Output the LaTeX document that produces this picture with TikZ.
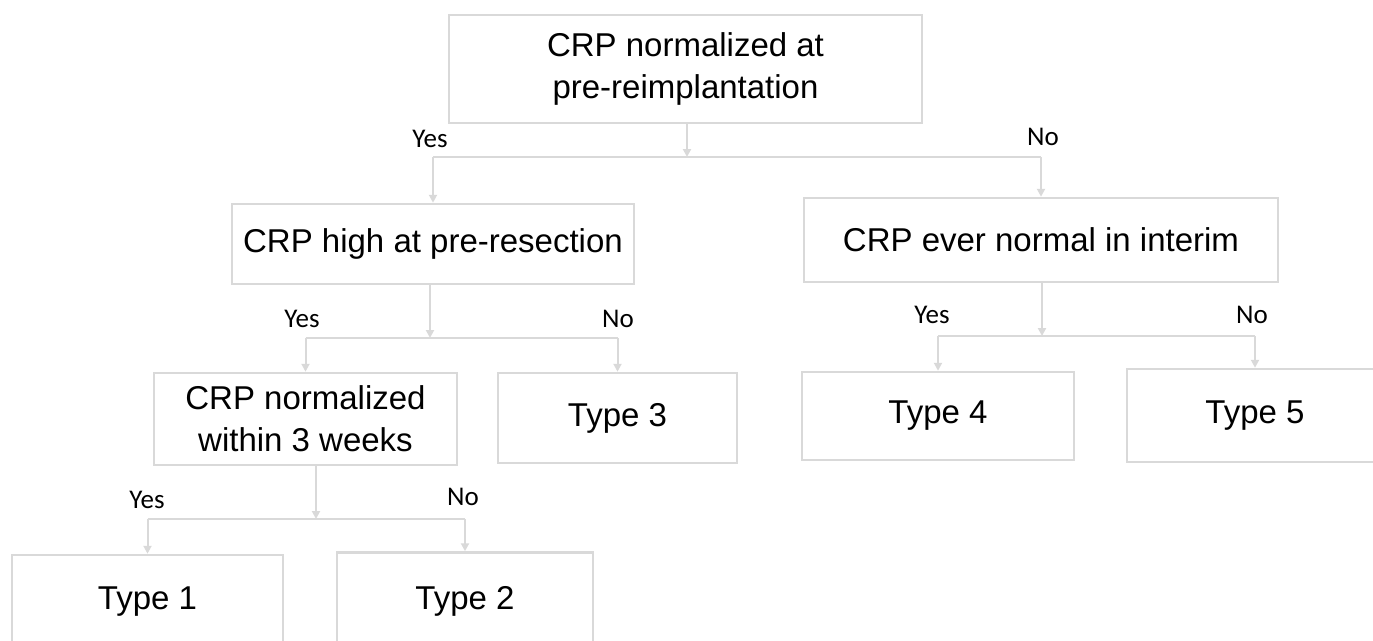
\documentclass[tikz,border=0pt]{standalone}
\usepackage{fontspec}
\setmainfont{Liberation Sans}
\newfontfamily\labfont{Carlito}
\usetikzlibrary{arrows.meta,calc}
\definecolor{linegrey}{RGB}{217,217,217}
\tikzset{
  box/.style={draw=linegrey, line width=2.5pt, rectangle, inner sep=0pt, align=center,
    font=\fontsize{33}{42}\selectfont},
  conn/.style={draw=linegrey, line width=2pt},
  arr/.style={conn, -{Triangle[length=8pt,width=8pt]}},
  lab/.style={font=\labfont\fontsize{27}{32}\selectfont, inner sep=0pt, text=black}
}
\begin{document}
\begin{tikzpicture}[x=1pt,y=-1pt]
\useasboundingbox (0,0) rectangle (1373,640);
\clip (0,0) rectangle (1373,640);
% boxes
\node[box, minimum width=473pt, minimum height=108pt] (top) at (685.5,69) {CRP normalized at\\pre-reimplantation};
\node[box, minimum width=402pt, minimum height=80pt] (high) at (433,244) {CRP high at pre-resection};
\node[box, minimum width=474pt, minimum height=84pt] (ever) at (1041,240) {CRP ever normal in interim};
\node[box, minimum width=303pt, minimum height=92pt] (within) at (305.5,419) {CRP normalized\\within 3 weeks};
\node[box, minimum width=239pt, minimum height=90pt] (t3) at (617.5,418) {Type 3};
\node[box, minimum width=272pt, minimum height=88pt] (t4) at (938,416) {Type 4};
\node[box, minimum width=256pt, minimum height=93pt] (t5) at (1255,415.5) {Type 5};
\node[box, minimum width=271pt, minimum height=93pt] (t1) at (147.5,601.5) {Type 1};
\node[box, minimum width=256pt, minimum height=97pt] (t2) at (465,601) {Type 2};
% junctions
\coordinate (j1) at (687,157);
\coordinate (j1l) at (433,157);
\coordinate (j1r) at (1041,157);
\coordinate (j2) at (430,338);
\coordinate (j2l) at (305.5,338);
\coordinate (j2r) at (617.5,338);
\coordinate (j3) at (1042,336);
\coordinate (j3l) at (938,336);
\coordinate (j3r) at (1255,336);
\coordinate (j4) at (316,519);
\coordinate (j4l) at (147.5,519);
\coordinate (j4r) at (465,519);
% level 1
\draw[arr] (top.south -| j1) -- (j1);
\draw[conn] (j1l) -- (j1r);
\draw[arr] (j1l) -- (high.north);
\draw[arr] (j1r) -- (ever.north);
% level 2 left
\draw[arr] (high.south -| j2) -- (j2);
\draw[conn] (j2l) -- (j2r);
\draw[arr] (j2l) -- (within.north);
\draw[arr] (j2r) -- (t3.north);
% level 2 right
\draw[arr] (ever.south -| j3) -- (j3);
\draw[conn] (j3l) -- (j3r);
\draw[arr] (j3l) -- (t4.north);
\draw[arr] (j3r) -- (t5.north);
% level 3
\draw[arr] (within.south -| j4) -- (j4);
\draw[conn] (j4l) -- (j4r);
\draw[arr] (j4l) -- (t1.north);
\draw[arr] (j4r) -- (t2.north);
% labels
\node[lab] (y1) at (430,139) {Yes};
\node[lab] (n1) at (1043,137) {No};
\node[lab] (y2) at (302,319) {Yes};
\node[lab] (n2) at (618,319) {No};
\node[lab] (y3) at (932,315) {Yes};
\node[lab] (n3) at (1252,315) {No};
\node[lab] (y4) at (147,500) {Yes};
\node[lab] (n4) at (463,497) {No};
\end{tikzpicture}
\end{document}
